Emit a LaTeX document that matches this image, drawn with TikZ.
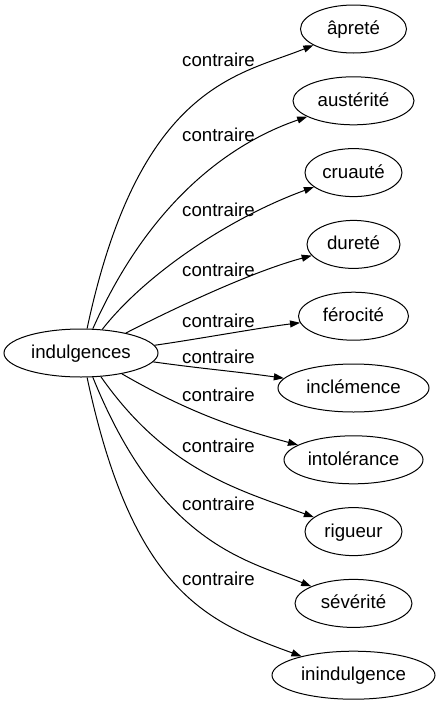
\documentclass[tikz,border=0pt]{standalone}
\usepackage{fontspec}
\setmainfont{Liberation Sans}
\usetikzlibrary{arrows.meta,shapes.geometric}
\begin{document}
\begin{tikzpicture}[x=1pt,y=-1pt,
  every node/.style={font=\fontsize{18.67pt}{22pt}\selectfont},
  word/.style={ellipse,draw,line width=1pt,inner sep=0pt,minimum height=48pt,text height=13pt,text depth=2pt},
  rel/.style={draw,line width=1pt,-{Triangle[length=10pt,width=7pt]}},
  lab/.style={anchor=base,inner sep=0pt}]
\useasboundingbox (0,0) rectangle (440,707);
\node[word,minimum width=154pt] (ind) at (81,353) {indulgences};
\node[word,minimum width=106pt] (apr) at (353.5,29) {âpreté};
\node[word,minimum width=121pt] (aus) at (353.5,100.8) {austérité};
\node[word,minimum width=97pt] (cru) at (353.5,172.6) {cruauté};
\node[word,minimum width=93pt] (dur) at (353.5,244.4) {dureté};
\node[word,minimum width=110pt] (fer) at (353.5,316.2) {férocité};
\node[word,minimum width=151pt] (inc) at (353.5,388) {inclémence};
\node[word,minimum width=139pt] (int) at (353.5,459.8) {intolérance};
\node[word,minimum width=97pt] (rig) at (353.5,531.6) {rigueur};
\node[word,minimum width=117pt] (sev) at (353.5,603.4) {sévérité};
\node[word,minimum width=163pt] (ini) at (353.5,675.2) {inindulgence};

\draw[rel] (ind.76) .. controls +(78:250pt) and +(202:80pt) .. (apr.202);
\draw[rel] (ind.64) .. controls +(66:130pt) and +(199:90pt) .. (aus.199);
\draw[rel] (ind.48) .. controls +(52:70pt) and +(200:90pt) .. (cru.200);
\draw[rel] (ind.24) .. controls +(27:60pt) and +(195:60pt) .. (dur.195);
\draw[rel] (ind.6) .. controls +(8:40pt) and +(187:40pt) .. (fer.187);
\draw[rel] (ind.-7) .. controls +(-8:50pt) and +(172:50pt) .. (inc.172);
\draw[rel] (ind.-27) .. controls +(-30:80pt) and +(165:60pt) .. (int.165);
\draw[rel] (ind.-50) .. controls +(-55:115pt) and +(160:80pt) .. (rig.160);
\draw[rel] (ind.-64) .. controls +(-68:180pt) and +(158:70pt) .. (sev.158);
\draw[rel] (ind.-76) .. controls +(-78:220pt) and +(160:100pt) .. (ini.160);

\node[lab] (l1) at (218.5,66.5) {contraire};
\node[lab] (l2) at (218.5,141.5) {contraire};
\node[lab] (l3) at (218.5,216.5) {contraire};
\node[lab] (l4) at (218.5,276) {contraire};
\node[lab] (l5) at (218.5,327.5) {contraire};
\node[lab] (l6) at (218.5,363) {contraire};
\node[lab] (l7) at (218.5,401) {contraire};
\node[lab] (l8) at (218.5,452) {contraire};
\node[lab] (l9) at (218.5,510.5) {contraire};
\node[lab] (l10) at (218.5,585.5) {contraire};
\end{tikzpicture}
\end{document}
